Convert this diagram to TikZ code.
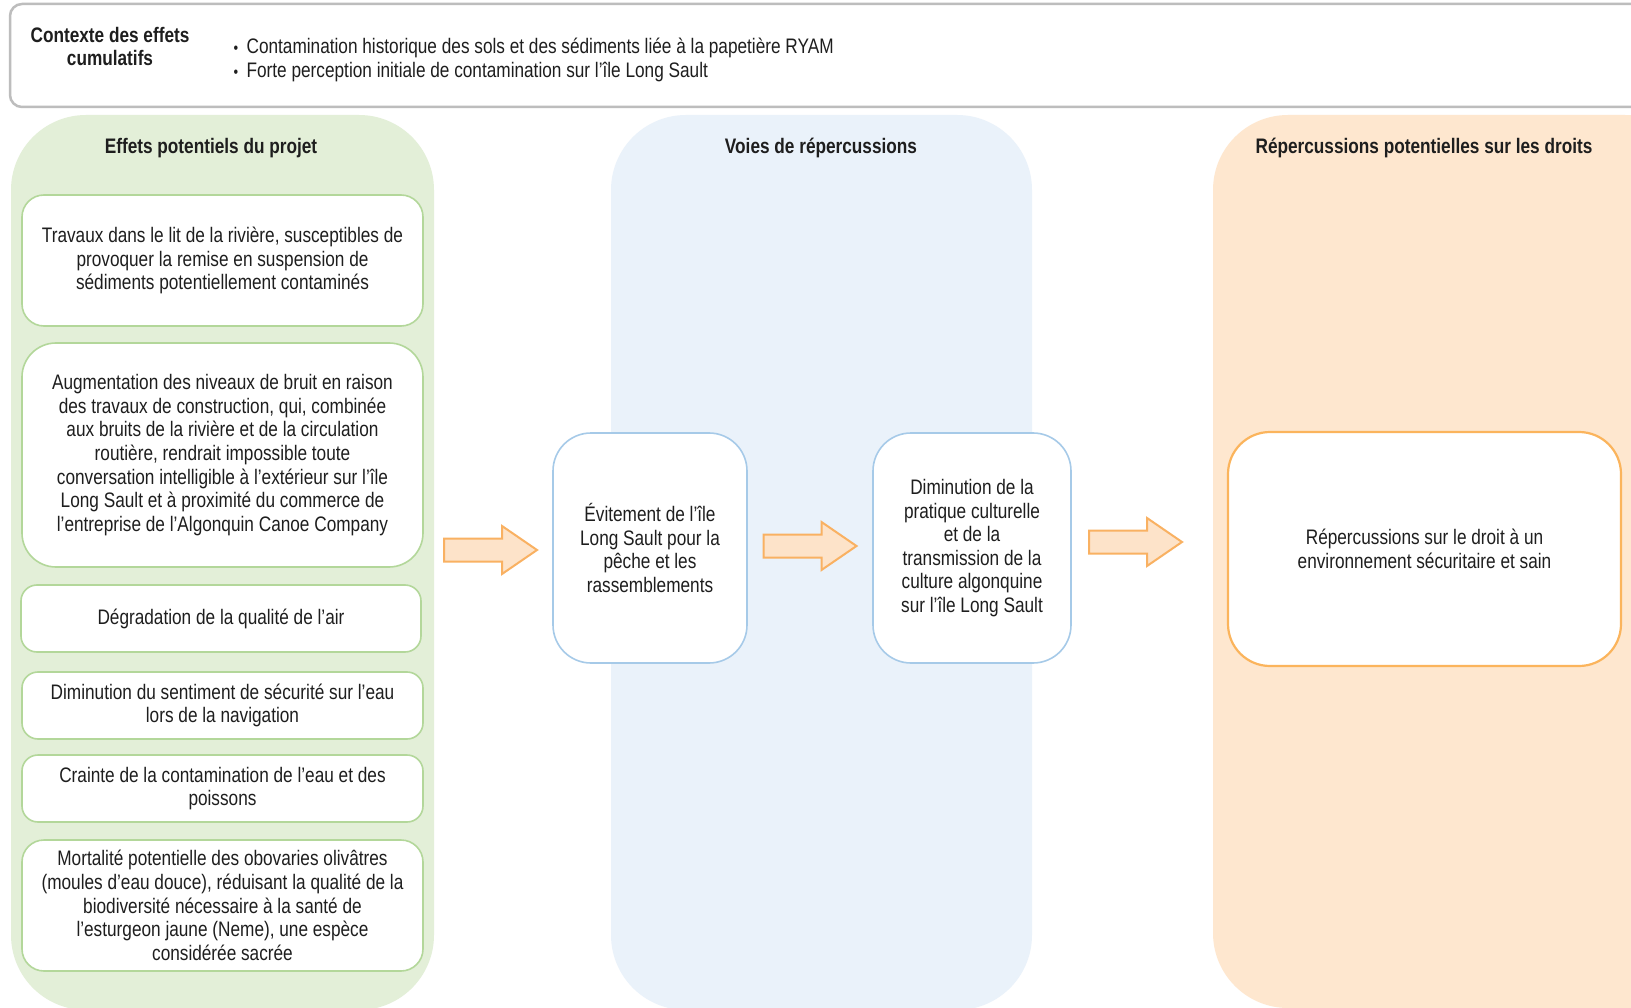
\documentclass[tikz,border=0pt]{standalone}
\usepackage{fontspec}
\setmainfont{Liberation Sans}[FakeStretch=0.82]
\definecolor{txt}{HTML}{1E1E1E}
\definecolor{gfill}{HTML}{E3EFD8}
\definecolor{gline}{HTML}{B3D79A}
\definecolor{bfill}{HTML}{EAF2FA}
\definecolor{bline}{HTML}{A6CAE8}
\definecolor{ofill}{HTML}{FEE7CF}
\definecolor{oline}{HTML}{FBB45C}
\definecolor{afill}{HTML}{FDE3C9}
\definecolor{aline}{HTML}{F9B162}
\definecolor{topline}{HTML}{BDBDBD}
\newcommand{\bul}{{\fontsize{16}{16}\selectfont •}\hspace{8.5pt}}
\tikzset{
  every node/.style={text=txt, font=\fontsize{21}{23.6}\selectfont},
  column/.style={rounded corners=75pt, draw=none},
  gbox/.style={draw=gline, line width=1.6pt, fill=white, rounded corners=22pt, align=flush center, inner sep=0pt},
  bbox/.style={draw=bline, line width=1.6pt, fill=white, rounded corners=38pt, align=flush center, inner sep=0pt},
  obox/.style={draw=oline, line width=2.2pt, fill=white, rounded corners=42pt, align=flush center, inner sep=0pt},
  title/.style={font=\fontsize{21}{23.6}\selectfont\bfseries, align=center},
  blockarrow/.style={draw=aline, fill=afill, line width=2pt, line join=miter}
}
\newcommand{\blockarrowat}[1]{%
  \draw[blockarrow] ([shift={(-46.5,-11.5)}]#1) -- ([shift={(11.5,-11.5)}]#1) -- ([shift={(11.5,-24)}]#1)
    -- ([shift={(46.5,0)}]#1) -- ([shift={(11.5,24)}]#1) -- ([shift={(11.5,11.5)}]#1)
    -- ([shift={(-46.5,11.5)}]#1) -- cycle;}
\begin{document}
\begin{tikzpicture}[x=1pt,y=-1pt]
\path[use as bounding box] (0,0) rectangle (1631,1008);
\clip (0,0) rectangle (1631,1008);
\fill[white] (0,0) rectangle (1631,1008);
% top context box
\draw[topline, line width=2.5pt, rounded corners=12pt] (10,4) rectangle (1660,107);
\node[title] (ctxt) at (110,46.5) {Contexte des effets\\cumulatifs};
\node[anchor=west, align=left] (ctxl) at (230,60) {\bul Contamination historique des sols et des sédiments liée à la papetière RYAM\\\bul Forte perception initiale de contamination sur l'île Long Sault};
% columns
\fill[gfill, column] (11,115) rectangle (434,1010);
\fill[bfill, column] (611,115) rectangle (1032,1010);
\fill[ofill, column] (1213,115) rectangle (1700,1008);
\node[title] (gt) at (211,148) {Effets potentiels du projet};
\node[title] (bt) at (821,148) {Voies de répercussions};
\node[title] (ot) at (1424,148) {Répercussions potentielles sur les droits};
% green boxes
\node[gbox, minimum width=401pt, minimum height=131pt, text width=392pt] (g1) at (222.5,260.5)
  {Travaux dans le lit de la rivière, susceptibles de\\provoquer la remise en suspension de\\sédiments potentiellement contaminés};
\node[gbox, minimum width=401pt, minimum height=224pt, text width=392pt, rounded corners=34pt] (g2) at (222.5,455)
  {Augmentation des niveaux de bruit en raison\\des travaux de construction, qui, combinée\\aux bruits de la rivière et de la circulation\\routière, rendrait impossible toute\\conversation intelligible à l'extérieur sur l'île\\Long Sault et à proximité du commerce de\\l’entreprise de l’Algonquin Canoe Company};
\node[gbox, minimum width=400pt, minimum height=67pt, text width=392pt, rounded corners=16pt] (g3) at (221,618.5)
  {Dégradation de la qualité de l'air};
\node[gbox, minimum width=401pt, minimum height=67pt, text width=392pt, rounded corners=16pt] (g4) at (222.5,705.5)
  {Diminution du sentiment de sécurité sur l'eau\\lors de la navigation};
\node[gbox, minimum width=401pt, minimum height=67pt, text width=392pt, rounded corners=16pt] (g5) at (222.5,788.5)
  {Crainte de la contamination de l'eau et des\\poissons};
\node[gbox, minimum width=401pt, minimum height=131pt, text width=392pt] (g6) at (222.5,905.5)
  {Mortalité potentielle des obovaries olivâtres\\(moules d’eau douce), réduisant la qualité de la\\biodiversité nécessaire à la santé de\\l’esturgeon jaune (Neme), une espèce\\considérée sacrée};
% blue boxes
\node[bbox, minimum width=194pt, minimum height=230pt, text width=188pt] (b1) at (650,548)
  {Évitement de l'île\\Long Sault pour la\\pêche et les\\rassemblements};
\node[bbox, minimum width=198pt, minimum height=230pt, text width=192pt] (b2) at (972,548)
  {Diminution de la\\pratique culturelle\\et de la\\transmission de la\\culture algonquine\\sur l'île Long Sault};
% orange box
\node[obox, minimum width=393pt, minimum height=234pt, text width=380pt] (o1) at (1424.5,549)
  {Répercussions sur le droit à un\\environnement sécuritaire et sain};
% block arrows
\coordinate (a1) at (490.5,550);
\coordinate (a2) at (810,546);
\coordinate (a3) at (1135.5,542);
\blockarrowat{a1}
\blockarrowat{a2}
\blockarrowat{a3}
\end{tikzpicture}
\end{document}
